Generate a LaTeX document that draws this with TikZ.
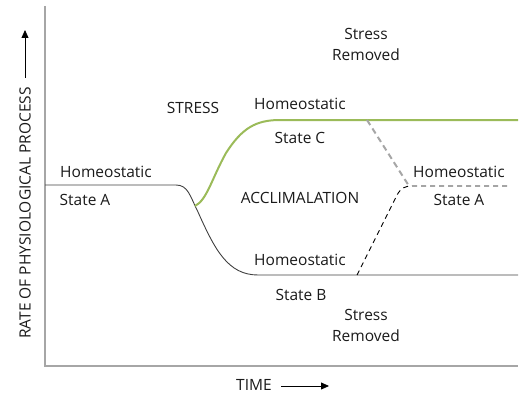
\documentclass[tikz,border=0pt]{standalone}
\usepackage{fontspec}
\setmainfont{Open Sans}
\usetikzlibrary{arrows.meta}
\definecolor{axisgray}{HTML}{A6A6A6}
\definecolor{curvegreen}{HTML}{9BBB59}
\definecolor{dashgray}{HTML}{A6A6A6}
\definecolor{txt}{HTML}{1A1A1A}
\tikzset{
  lbl/.style={font=\fontsize{15.5}{17}\selectfont, text=txt, inner sep=0pt},
  axisline/.style={draw=axisgray, line width=1.3pt},
  curveblack/.style={draw=black!75, line width=0.9pt},
  curvegr/.style={draw=curvegreen, line width=2pt},
  graydash/.style={draw=dashgray, line width=2pt, dash pattern=on 6pt off 4pt},
  blackdash/.style={draw=black, line width=0.9pt, dash pattern=on 5pt off 4pt},
  arrowline/.style={draw=black, line width=0.8pt, -{Triangle[length=8pt,width=7pt]}}
}
\begin{document}
\begin{tikzpicture}[x=1pt,y=-1pt]
\useasboundingbox (0,0) rectangle (525,396);
% axes
\coordinate (top) at (45,6);
\coordinate (origin) at (45,366);
\coordinate (xend) at (518,366);
\draw[axisline] (top) -- (origin) -- (xend);
% axis labels
\node[lbl, rotate=90] (ylab) at (25,213) {RATE OF PHYSIOLOGICAL PROCESS};
\coordinate (ya0) at (25,78);
\coordinate (ya1) at (25,30);
\draw[arrowline] (ya0) -- (ya1);
\node[lbl] (xlab) at (254,385) {TIME};
\coordinate (xa0) at (281,386);
\coordinate (xa1) at (329,386);
\draw[arrowline] (xa0) -- (xa1);
% curves
\coordinate (a0) at (45,185);
\coordinate (a1) at (176,185);
\coordinate (bmid) at (198,212);
\coordinate (b0) at (258,275);
\coordinate (b1) at (518,275);
\draw[curveblack] (a0) -- (a1) .. controls (188,185) and (190,196) .. (bmid)
  .. controls (215,250) and (228,275) .. (b0) -- (b1);
\coordinate (g0) at (195,206);
\coordinate (gmid) at (226,153);
\coordinate (g1) at (280,120);
\coordinate (g2) at (518,120);
\draw[curvegr] (g0) .. controls (207,200) and (212,178) .. (gmid)
  .. controls (242,128) and (256,120) .. (g1) -- (g2);
\coordinate (c0) at (367,120);
\coordinate (c1) at (409,186);
\draw[graydash] (c0) -- (c1);
\coordinate (d0) at (357,275);
\coordinate (d1) at (397,195);
\coordinate (d2) at (412,186);
\coordinate (d3) at (510,186);
\draw[blackdash] (d0) -- (d1) .. controls (401,188) and (405,186) .. (d2) -- (d3);
% texts
\node[lbl] (ha1) at (106,172) {Homeostatic};
\node[lbl] (sa1) at (85,200) {State A};
\node[lbl] (stress) at (193,108) {STRESS};
\node[lbl] (hc) at (300,104) {Homeostatic};
\node[lbl] (sc) at (300,138) {State C};
\node[lbl] (sr1a) at (366,34) {Stress};
\node[lbl] (sr1b) at (366,55) {Removed};
\node[lbl] (accl) at (300,198) {ACCLIMALATION};
\node[lbl] (ha2) at (459,172) {Homeostatic};
\node[lbl] (sa2) at (459,200) {State A};
\node[lbl] (hb) at (300,260) {Homeostatic};
\node[lbl] (sb) at (301,295) {State B};
\node[lbl] (sr2a) at (366,315) {Stress};
\node[lbl] (sr2b) at (366,336) {Removed};
\end{tikzpicture}
\end{document}
